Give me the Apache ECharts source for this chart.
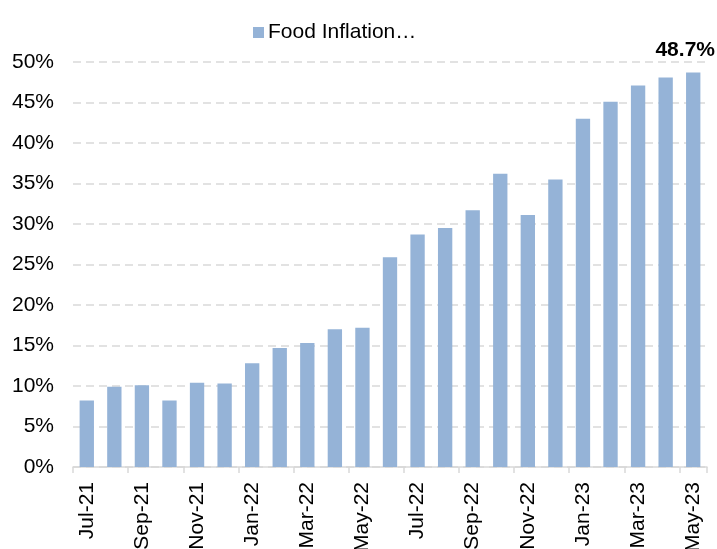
<!DOCTYPE html>
<html>
<head>
<meta charset="utf-8">
<script src="https://cdn.jsdelivr.net/npm/echarts@6/dist/echarts.min.js"></script>
<style>
  html, body { margin: 0; padding: 0; background: #fff; }
  #chart { width: 717px; height: 549px; }
</style>
</head>
<body>
<div id="chart"></div>
<script>
// Monthly food inflation, year over year (%)
const months = [
  'Jul-21', 'Aug-21', 'Sep-21', 'Oct-21', 'Nov-21', 'Dec-21',
  'Jan-22', 'Feb-22', 'Mar-22', 'Apr-22', 'May-22', 'Jun-22',
  'Jul-22', 'Aug-22', 'Sep-22', 'Oct-22', 'Nov-22', 'Dec-22',
  'Jan-23', 'Feb-23', 'Mar-23', 'Apr-23', 'May-23'
];
const foodInflation = [
  8.2, 9.9, 10.1, 8.2, 10.4, 10.3,
  12.8, 14.7, 15.3, 17.0, 17.2, 25.9,
  28.7, 29.5, 31.7, 36.2, 31.1, 35.5,
  43.0, 45.1, 47.1, 48.1, 48.7
];
const seriesName = 'Food Inflation…';
const yMin = 0, yMax = 50, yStep = 5;

const FONT = 'Liberation Sans, Arial, sans-serif';
const FS = 21;
const lastIdx = foodInflation.length - 1;

const chart = echarts.init(document.getElementById('chart'), null, { renderer: 'canvas' });
chart.setOption({
  animation: false,
  textStyle: { fontFamily: FONT },
  legend: {
    data: [seriesName],
    left: 253,
    top: 22,
    padding: 0,
    icon: 'rect',
    itemWidth: 11,
    itemHeight: 11,
    itemGap: 5,
    textStyle: { fontFamily: FONT, fontSize: FS, color: '#000', padding: [0, 0, 0, -1] }
  },
  grid: {
    left: 73, right: 10, top: 62, bottom: 82,
    containLabel: false,
    outerBoundsMode: 'none'
  },
  xAxis: {
    type: 'category',
    data: months,
    boundaryGap: true,
    axisLine: { lineStyle: { color: '#d9d9d9', width: 1.5 } },
    axisTick: { show: true, interval: 1, length: 6, lineStyle: { color: '#d9d9d9', width: 1.5 } },
    axisLabel: {
      interval: 1,
      rotate: 90,
      margin: 15,
      fontFamily: FONT,
      fontSize: FS,
      color: '#000'
    }
  },
  yAxis: {
    type: 'value',
    min: yMin,
    max: yMax,
    interval: yStep,
    axisLine: { show: false },
    axisTick: { show: false },
    axisLabel: {
      formatter: '{value}%',
      margin: 19,
      fontFamily: FONT,
      fontSize: FS,
      color: '#000'
    },
    splitLine: { lineStyle: { color: '#d9d9d9', width: 1.5, type: [8, 5] } }
  },
  series: [{
    name: seriesName,
    type: 'bar',
    data: foodInflation.map((v, i) => i === lastIdx ? {
      value: v,
      label: {
        show: true,
        position: 'top',
        distance: 12,
        offset: [-8, 0],
        formatter: p => p.value.toFixed(1) + '%',
        fontFamily: FONT,
        fontSize: FS,
        fontWeight: 'bold',
        color: '#000'
      }
    } : v),
    barCategoryGap: '48%',
    itemStyle: { color: '#95b3d7' }
  }]
});
</script>
</body>
</html>
